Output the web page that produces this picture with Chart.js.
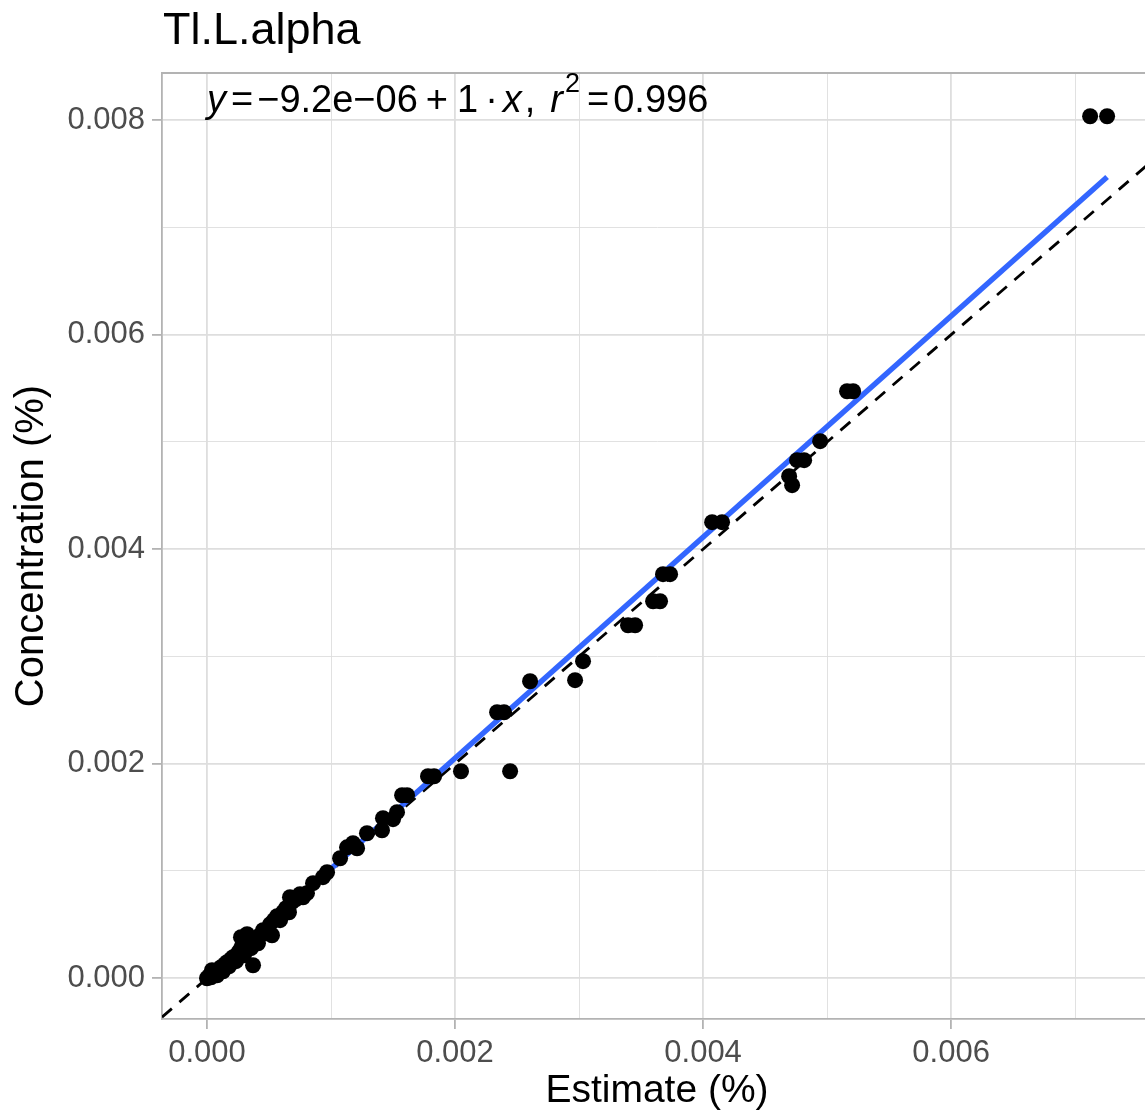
<!DOCTYPE html>
<html>
<head>
<meta charset="utf-8">
<title>Tl.L.alpha</title>
<script src="https://cdn.jsdelivr.net/npm/chart.js@4.4.1/dist/chart.umd.min.js"></script>
<style>
  html, body { margin: 0; padding: 0; background: #fff; overflow: hidden; }
  #wrap { width: 1145px; height: 1117px; overflow: hidden; }
  canvas { display: block; }
</style>
</head>
<body>
<div id="wrap"><canvas id="chart" width="1152" height="1117"></canvas></div>
<script>
// Estimate vs concentration (%)
const plotTitle = 'Tl.L.alpha';
const xTitle = 'Estimate (%)';
const yTitle = 'Concentration (%)';

const estimate = [
  0, 0.000016, 0.000032, 0.000048, 0.000065, 0.000040, 0.000081, 0.000097, 0.000113, 0.000129,
  0.000145, 0.000161, 0.000177, 0.000194, 0.000210, 0.000234, 0.000250, 0.000266, 0.000282, 0.000274,
  0.000323, 0.000298, 0.000339, 0.000355, 0.000371, 0.000387, 0.000411, 0.000427, 0.000452, 0.000476,
  0.000508, 0.000524, 0.000540, 0.000565, 0.000589, 0.000613, 0.000637, 0.000661, 0.000685, 0.000718,
  0.000750, 0.000774, 0.000669, 0.000806, 0.000855, 0.000935, 0.000968, 0.001073, 0.001177, 0.001210,
  0.001129, 0.001290, 0.001411, 0.001419, 0.001500, 0.001532, 0.001573, 0.001613,
  0.001782, 0.001831, 0.002048, 0.002444, 0.002339, 0.002395, 0.002605, 0.002968, 0.003032,
  0.003395, 0.003452, 0.003597, 0.003653, 0.003677, 0.003734, 0.004073, 0.004153,
  0.004694, 0.004718, 0.004758, 0.004815, 0.004944, 0.005161, 0.005210, 0.007121, 0.007258
];
const concentration = [
  0, 0.000019, 0.000009, 0.000037, 0.000056, 0.000075, 0.000028, 0.000084, 0.000103, 0.000065,
  0.000131, 0.000149, 0.000112, 0.000177, 0.000196, 0.000159, 0.000233, 0.000261, 0.000298, 0.000382,
  0.000410, 0.000214, 0.000317, 0.000280, 0.000121, 0.000354, 0.000326, 0.000401, 0.000448, 0.000420,
  0.000503, 0.000401, 0.000541, 0.000578, 0.000541, 0.000615, 0.000653, 0.000615, 0.000709, 0.000737,
  0.000783, 0.000755, 0.000755, 0.000793, 0.000886, 0.000942, 0.000988, 0.001119, 0.001259, 0.001212,
  0.001221, 0.001352, 0.001380, 0.001492, 0.001483, 0.001548, 0.001706, 0.001706,
  0.001883, 0.001883, 0.001930, 0.001930, 0.002480, 0.002480, 0.002769, 0.002779, 0.002956,
  0.003291, 0.003291, 0.003515, 0.003515, 0.003767, 0.003767, 0.004252, 0.004252,
  0.004681, 0.004597, 0.004830, 0.004830, 0.005007, 0.005473, 0.005473, 0.008037, 0.008037
];

// fitted line (lm) end points and the 1:1 reference line
const fitX = [0, 0.007258];
const fitY = [-0.0000092, 0.00747];
const xLimits = [-0.000363, 0.00762];
const yLimits = [-0.00038, 0.00844];
const refX = [-0.000363, 0.00762];
const refY = [-0.000363, 0.00762];

const xTickValues = [0, 0.001, 0.002, 0.003, 0.004, 0.005, 0.006, 0.007];
const xTickLabels = ['0.000', '', '0.002', '', '0.004', '', '0.006', ''];
const yTickValues = [0, 0.001, 0.002, 0.003, 0.004, 0.005, 0.006, 0.007, 0.008];
const yTickLabels = ['0.000', '', '0.002', '', '0.004', '', '0.006', '', '0.008'];

// equation label pieces: text, italic, superscript, gap after (px)
const eqParts = [
  ['y', true, false, 5],
  ['=', false, false, 4],
  ['\u22129.2e\u221206', false, false, 8],
  ['+', false, false, 9],
  ['1', false, false, 7],
  ['\u00b7', false, false, 5],
  ['x', true, false, 3],
  [',', false, false, 15],
  ['r', true, false, 2],
  ['2', false, true, 7],
  ['=', false, false, 4],
  ['0.996', false, false, 0]
];

const FONT = '"Liberation Sans", Arial, Helvetica, sans-serif';
const GRID = '#dedede';
const FRAME = '#b3b3b3';

const points = estimate.map((x, i) => ({ x: x, y: concentration[i] }));
const fitLine = fitX.map((x, i) => ({ x: x, y: fitY[i] }));
const refLine = refX.map((x, i) => ({ x: x, y: refY[i] }));

function isMajor(i) { return i % 2 === 0; }

// title, top frame line and equation label
const extras = {
  id: 'extras',
  afterDraw(chart) {
    const ctx = chart.ctx;
    const a = chart.chartArea;
    ctx.save();
    ctx.strokeStyle = FRAME;
    ctx.lineWidth = 1.8;
    ctx.beginPath();
    ctx.moveTo(a.left, a.top);
    ctx.lineTo(a.right, a.top);
    ctx.stroke();

    ctx.fillStyle = '#000';
    ctx.textBaseline = 'alphabetic';
    ctx.textAlign = 'left';
    ctx.font = '45px ' + FONT;
    ctx.fillText(plotTitle, a.left + 1, 44);

    const size = 38;
    const base = 112;
    let x = a.left + 45;
    eqParts.forEach(([t, it, sup, gap]) => {
      const s = sup ? 27 : size;
      ctx.font = (it ? 'italic ' : '') + s + 'px ' + FONT;
      ctx.fillText(t, x, sup ? base - 20 : base);
      x += ctx.measureText(t).width + gap;
    });
    ctx.restore();
  }
};

new Chart(document.getElementById('chart'), {
  type: 'scatter',
  data: {
    datasets: [
      {
        label: 'data',
        data: points,
        backgroundColor: '#000',
        borderWidth: 0,
        pointRadius: 8,
        pointHoverRadius: 8,
        order: 0
      },
      {
        label: 'fit',
        data: fitLine,
        showLine: true,
        borderColor: '#3366ff',
        borderWidth: 5.5,
        pointRadius: 0,
        order: 1
      },
      {
        label: '1:1',
        data: refLine,
        showLine: true,
        borderColor: '#000',
        borderWidth: 2.8,
        borderDash: [13, 10],
        pointRadius: 0,
        order: 2
      }
    ]
  },
  options: {
    responsive: false,
    animation: false,
    events: [],
    layout: { autoPadding: false, padding: { top: 73, left: 0, right: 0, bottom: 0 } },
    plugins: {
      legend: { display: false },
      tooltip: { enabled: false },
      title: { display: false }
    },
    scales: {
      x: {
        type: 'linear',
        min: xLimits[0],
        max: xLimits[1],
        afterBuildTicks: s => { s.ticks = xTickValues.map(v => ({ value: v })); },
        afterFit: s => { s.height = 98; },
        grid: {
          color: GRID,
          lineWidth: c => isMajor(c.index) ? 1.8 : 0.9,
          tickColor: c => isMajor(c.index) ? FRAME : 'rgba(0,0,0,0)',
          tickLength: 10,
          tickWidth: 1.8
        },
        border: { display: true, color: FRAME, width: 1.8 },
        ticks: {
          autoSkip: false,
          maxRotation: 0,
          padding: 6,
          color: '#4d4d4d',
          font: { family: FONT, size: 31 },
          callback: (v, i) => xTickLabels[i]
        },
        title: {
          display: true,
          text: xTitle,
          color: '#000',
          font: { family: FONT, size: 39 },
          padding: { top: 0, bottom: 2 }
        }
      },
      y: {
        type: 'linear',
        min: yLimits[0],
        max: yLimits[1],
        afterBuildTicks: s => { s.ticks = yTickValues.map(v => ({ value: v })); },
        afterFit: s => { s.width = 162; },
        grid: {
          color: GRID,
          lineWidth: c => isMajor(c.index) ? 1.8 : 0.9,
          tickColor: c => isMajor(c.index) ? FRAME : 'rgba(0,0,0,0)',
          tickLength: 10,
          tickWidth: 1.8
        },
        border: { display: true, color: FRAME, width: 1.8 },
        ticks: {
          autoSkip: false,
          padding: 7,
          color: '#4d4d4d',
          font: { family: FONT, size: 31 },
          callback: (v, i) => yTickLabels[i]
        },
        title: {
          display: true,
          text: yTitle,
          color: '#000',
          font: { family: FONT, size: 40 },
          padding: { top: 8, bottom: 0 }
        }
      }
    }
  },
  plugins: [extras]
});
</script>
</body>
</html>
